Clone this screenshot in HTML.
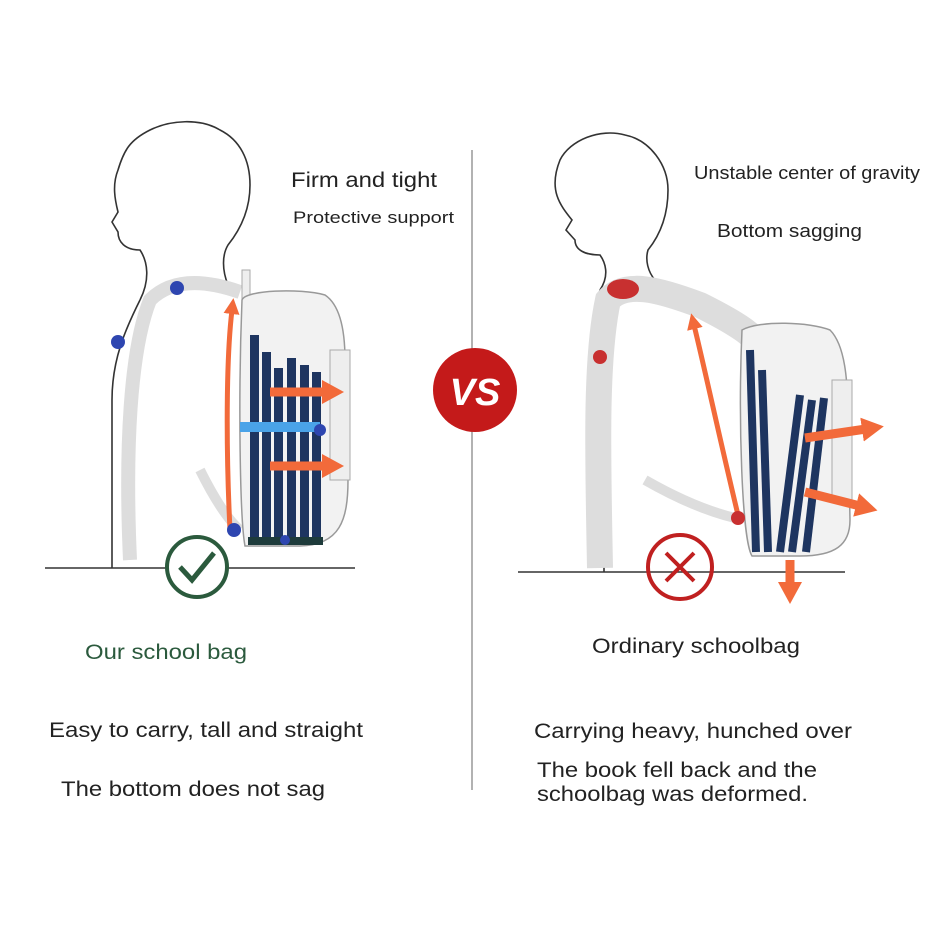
<!DOCTYPE html>
<html><head><meta charset="utf-8"><style>
html,body{margin:0;padding:0;background:#fff;}
svg{display:block;}
text{font-family:"Liberation Sans",sans-serif;}
</style></head><body>
<svg width="950" height="950" viewBox="0 0 950 950" xmlns="http://www.w3.org/2000/svg">
<defs>
<marker id="ah" markerUnits="userSpaceOnUse" markerWidth="22" markerHeight="24" refX="4" refY="12" orient="auto"><path d="M0,0 L22,12 L0,24 Z" fill="#f26a3a"/></marker>
<marker id="as" markerUnits="userSpaceOnUse" markerWidth="16" markerHeight="16" refX="4" refY="8" orient="auto"><path d="M0,0 L16,8 L0,16 Z" fill="#f26a3a"/></marker>
</defs>
<rect width="950" height="950" fill="#fff"/>
<!-- LEFT FIGURE -->
<g fill="none" stroke="#333" stroke-width="1.6">
<path d="M140,300 C150,280 148,262 140,250 C125,250 118,242 118,232 L112,222 L118,212 C115,200 112,185 118,170 C124,150 130,140 150,130 C170,120 200,118 220,130 C240,140 250,160 250,185 C250,210 240,230 228,245 C222,255 222,270 228,285"/>
<path d="M140,300 C125,330 112,360 112,400 L112,568"/>
</g>
<line x1="45" y1="568" x2="355" y2="568" stroke="#333" stroke-width="1.6"/>
<path d="M130,560 C125,450 130,350 150,300 C170,280 200,278 240,292" fill="none" stroke="#ddd" stroke-width="14"/>
<path d="M200,470 C215,500 228,520 240,530" fill="none" stroke="#ddd" stroke-width="10"/>
<rect x="242" y="270" width="8" height="30" fill="#eee" stroke="#aaa"/>
<path d="M242,300 C245,290 300,288 325,295 C340,305 345,330 345,360 L348,480 C348,520 340,545 300,546 L245,546 C240,520 238,400 242,300 Z" fill="#f2f2f2" stroke="#999" stroke-width="1.5"/>
<rect x="330" y="350" width="20" height="130" fill="#eee" stroke="#aaa"/>
<g fill="#1e3560">
<rect x="250" y="335" width="9" height="205"/><rect x="262" y="352" width="9" height="188"/><rect x="274" y="368" width="9" height="172"/><rect x="287" y="358" width="9" height="182"/><rect x="300" y="365" width="9" height="175"/><rect x="312" y="372" width="9" height="168"/>
</g>
<rect x="248" y="537" width="75" height="8" fill="#1e3b3b"/>
<rect x="240" y="422" width="80" height="10" fill="#4aa3e8"/>
<path d="M230,530 C226,450 226,360 232,310" fill="none" stroke="#f26a3a" stroke-width="5" marker-end="url(#as)"/>
<path d="M270,392 L326,392" stroke="#f26a3a" stroke-width="9" marker-end="url(#ah)"/>
<path d="M270,466 L326,466" stroke="#f26a3a" stroke-width="9" marker-end="url(#ah)"/>
<g fill="#2e46b0"><circle cx="177" cy="288" r="7"/><circle cx="118" cy="342" r="7"/><circle cx="320" cy="430" r="6"/><circle cx="234" cy="530" r="7"/><circle cx="285" cy="540" r="5"/></g>
<circle cx="197" cy="567" r="30" fill="#fff" stroke="#2b5a3d" stroke-width="4"/>
<path d="M180,567 L192,580 L214,553" fill="none" stroke="#2b5a3d" stroke-width="5"/>
<text x="291" y="187" font-size="21" fill="#222" textLength="146" lengthAdjust="spacingAndGlyphs">Firm and tight</text>
<text x="293" y="223" font-size="17" fill="#222" textLength="161" lengthAdjust="spacingAndGlyphs">Protective support</text>
<text x="85" y="659" font-size="21" fill="#2b5a3d" textLength="162" lengthAdjust="spacingAndGlyphs">Our school bag</text>
<text x="49" y="737" font-size="21" fill="#222" textLength="314" lengthAdjust="spacingAndGlyphs">Easy to carry, tall and straight</text>
<text x="61" y="796" font-size="21" fill="#222" textLength="264" lengthAdjust="spacingAndGlyphs">The bottom does not sag</text>
<line x1="472" y1="150" x2="472" y2="790" stroke="#999" stroke-width="1.5"/>
<circle cx="475" cy="390" r="42" fill="#c41a1a"/>
<text x="475" y="405" font-size="38" font-weight="bold" font-style="italic" fill="#fff" text-anchor="middle">VS</text>
<!-- RIGHT FIGURE -->
<g fill="none" stroke="#333" stroke-width="1.6">
<path d="M600,290 C610,275 605,262 600,255 C585,255 575,250 575,240 L566,230 L572,220 C560,205 548,190 560,160 C570,140 600,128 625,135 C650,140 668,165 668,190 C668,215 660,235 648,250 C645,260 648,272 655,280"/>
<path d="M600,290 C590,330 598,420 604,470 L604,572"/>
</g>
<line x1="518" y1="572" x2="845" y2="572" stroke="#333" stroke-width="1.6"/>
<path d="M600,568 C598,460 595,360 608,300 C625,280 660,290 700,305 C730,320 745,330 750,335" fill="none" stroke="#ddd" stroke-width="26"/>
<path d="M645,480 C680,500 710,512 735,518" fill="none" stroke="#ddd" stroke-width="10"/>
<path d="M742,330 C760,320 810,322 830,330 C845,345 848,380 848,420 L850,520 C850,545 835,556 800,556 L752,556 C742,540 738,420 742,330 Z" fill="#f2f2f2" stroke="#999" stroke-width="1.5"/>
<rect x="832" y="380" width="20" height="120" fill="#eee" stroke="#aaa"/>
<g stroke="#1e3560" stroke-width="8">
<line x1="750" y1="350" x2="756" y2="552"/><line x1="762" y1="370" x2="768" y2="552"/><line x1="800" y1="395" x2="780" y2="552"/><line x1="812" y1="400" x2="792" y2="552"/><line x1="824" y1="398" x2="806" y2="552"/>
</g>
<path d="M738,515 C720,440 705,370 694,325" fill="none" stroke="#f26a3a" stroke-width="5" marker-end="url(#as)"/>
<path d="M805,438 L866,429" stroke="#f26a3a" stroke-width="9" marker-end="url(#ah)"/>
<path d="M805,492 L860,506" stroke="#f26a3a" stroke-width="9" marker-end="url(#ah)"/>
<path d="M790,560 L790,586" stroke="#f26a3a" stroke-width="9" marker-end="url(#ah)"/>
<g fill="#c83030"><ellipse cx="623" cy="289" rx="16" ry="10"/><circle cx="600" cy="357" r="7"/><circle cx="738" cy="518" r="7"/></g>
<circle cx="680" cy="567" r="32" fill="none" stroke="#c02020" stroke-width="4"/>
<path d="M666,553 L694,581 M694,553 L666,581" stroke="#c02020" stroke-width="4"/>
<text x="694" y="179" font-size="18" fill="#222" textLength="226" lengthAdjust="spacingAndGlyphs">Unstable center of gravity</text>
<text x="717" y="237" font-size="18" fill="#222" textLength="145" lengthAdjust="spacingAndGlyphs">Bottom sagging</text>
<text x="592" y="653" font-size="21" fill="#222" textLength="208" lengthAdjust="spacingAndGlyphs">Ordinary schoolbag</text>
<text x="534" y="738" font-size="21" fill="#222" textLength="318" lengthAdjust="spacingAndGlyphs">Carrying heavy, hunched over</text>
<text x="537" y="777" font-size="21" fill="#222" textLength="280" lengthAdjust="spacingAndGlyphs">The book fell back and the</text>
<text x="537" y="801" font-size="21" fill="#222" textLength="271" lengthAdjust="spacingAndGlyphs">schoolbag was deformed.</text>
</svg>
</body></html>
